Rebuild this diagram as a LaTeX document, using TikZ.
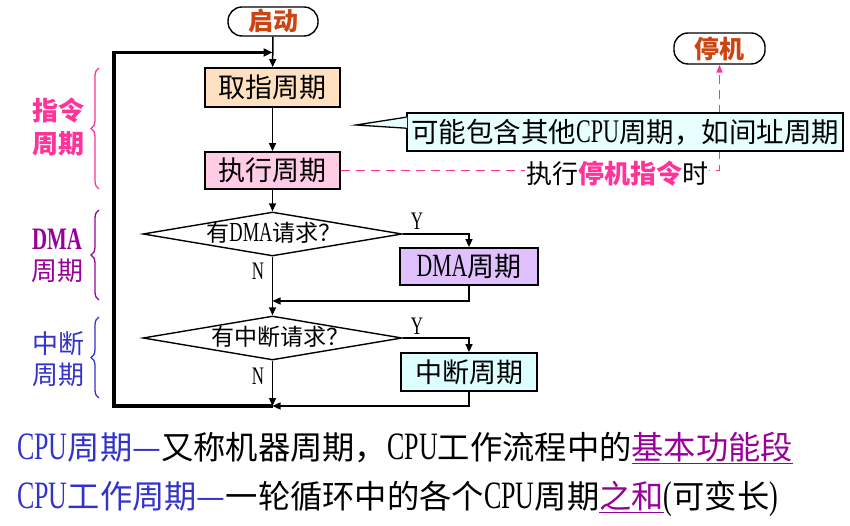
\documentclass[tikz,border=0pt]{standalone}
\usepackage{fontspec}
\setmainfont{Noto Sans CJK SC}
\newfontfamily\lat[FakeStretch=0.67,Scale=1.2]{Liberation Serif}
\usetikzlibrary{arrows.meta,decorations.pathreplacing,shapes.geometric}
\definecolor{startred}{RGB}{204,68,17}
\definecolor{pinkc}{RGB}{255,51,153}
\definecolor{purp}{RGB}{153,0,153}
\definecolor{bluec}{RGB}{51,51,204}
\definecolor{peach}{RGB}{255,224,192}
\definecolor{pinkfill}{RGB}{255,204,230}
\definecolor{lav}{RGB}{224,192,255}
\definecolor{cyanfill}{RGB}{221,255,255}
\definecolor{callfill}{RGB}{232,255,255}
\tikzset{
  conn/.style={line width=1.5pt, -{Triangle[length=8pt,width=7pt]}},
  loopline/.style={line width=3.2pt, -{Triangle[length=9pt,width=8pt]}},
  dashpink/.style={pinkc, line width=1.8pt, dash pattern=on 9pt off 6pt, -{Triangle[length=8pt,width=6pt]}},
  procbox/.style={draw, line width=1.8pt, minimum width=135pt, minimum height=38pt, inner sep=0pt, font=\fontsize{27}{27}\selectfont},
  term/.style={draw, line width=1.4pt, rounded corners=14pt, minimum width=90pt, minimum height=29pt, inner sep=0pt, text=startred, font=\bfseries\fontsize{25}{25}\selectfont},
  dia/.style={diamond, draw, line width=1.4pt, aspect=5.9, minimum width=259pt, minimum height=44pt, inner sep=0pt},
  dtext/.style={inner sep=0pt, font=\fontsize{23}{23}\selectfont},
  yn/.style={inner sep=0pt, font=\lat\fontsize{21}{21}\selectfont},
  sidelab/.style={align=center, inner sep=0pt},
  bracestyle/.style={line width=1.3pt, decorate, decoration={brace, amplitude=8pt}},
  bottomtext/.style={anchor=base west, inner sep=0pt, font=\fontsize{32.3}{32.3}\selectfont}
}
\begin{document}
\begin{tikzpicture}[x=1pt,y=-1pt]
\useasboundingbox (0,0) rectangle (850,526);

% terminals
\node[term] (start) at (273,21.5) {启动};
\node[term, minimum width=91pt, minimum height=31pt] (stop) at (719.5,48.5) {停机};

% process boxes
\node[procbox, fill=peach, minimum height=39pt] (fetch) at (272.5,87.5) {取指周期};
\node[procbox, fill=pinkfill, minimum height=37pt] (exec) at (272.5,170.5) {执行周期};

% decisions
\node[dia] (d1) at (272.5,234) {};
\node[dtext] (d1t) at (274,233) {有{\lat DMA}请求？};
\node[procbox, fill=lav, minimum width=138pt, minimum height=37pt] (dma) at (469,266.5) {{\lat DMA}周期};

\node[dia] (d2) at (272.5,338) {};
\node[dtext] (d2t) at (280,337) {有中断请求？};
\node[procbox, fill=cyanfill, minimum width=136pt, minimum height=38pt] (int) at (469,372) {中断周期};

% Y / N labels
\node[yn] (y1) at (417,221) {Y};
\node[yn] (n1) at (258,271) {N};
\node[yn] (y2) at (417,326) {Y};
\node[yn] (n2) at (258,376) {N};

% junctions
\coordinate (j1) at (272.5,301);
\coordinate (j2) at (272.5,406);
\coordinate (lb) at (114,406);
\coordinate (lt) at (114,52.5);
\coordinate (jt) at (272.5,52.5);
\coordinate (dc) at (719.5,170.5);

% connectors
\draw[conn] (start) -- (fetch);
\draw[conn] (fetch) -- (exec);
\draw[conn] (exec) -- (d1.north);
\draw[conn] (d1.east) -| (dma.north);
\draw[conn] (d1.south) -- (d2.north);
\draw[conn] (dma.south) |- (j1);
\draw[conn] (d2.east) -| (int.north);
\draw[conn] (d2.south) -- (j2);
\draw[conn] (int.south) |- (j2);
\draw[loopline] (j2) -- (lb) -- (lt) -- (jt);

% halt path
\draw[dashpink] (exec.east) -- (dc) -- (stop.south);
\node[fill=white, inner sep=1pt, font=\fontsize{26}{26}\selectfont] (stopnote) at (617,174) {执行{\bfseries\color{pinkc}停机指令}时};

% callout
\node[draw, line width=1.6pt, fill=callfill, minimum width=436pt, minimum height=38pt, inner sep=0pt, font=\fontsize{27.5}{27.5}\selectfont] (call) at (625,132) {可能包含其他{\lat CPU}周期，如间址周期};
\coordinate (tip) at (356,125);
\fill[callfill] ([xshift=1pt,yshift=-5pt]call.north west) -- (tip) -- ([xshift=1pt,yshift=-16pt]call.north west) -- cycle;
\draw[line width=1.3pt] ([yshift=-5pt]call.north west) -- (tip) -- ([yshift=-16pt]call.north west);

% braces and side labels
\draw[pinkc, bracestyle] (99,189) -- (99,68);
\draw[purp, bracestyle] (99,300) -- (99,210);
\draw[bluec, bracestyle] (99,398) -- (99,317);
\node[sidelab, text=pinkc, font=\bfseries\fontsize{26}{33}\selectfont] (lab1) at (58,127) {指令\\周期};
\node[sidelab, text=purp, font=\fontsize{26}{31}\selectfont] (lab2) at (57,256) {{\lat\bfseries DMA}\\周期};
\node[sidelab, text=bluec, font=\fontsize{26}{31}\selectfont] (lab3) at (58,359) {中断\\周期};

% bottom text
\node[bottomtext] (t1) at (17,459) {{\color{bluec}{\lat CPU}周期—}又称机器周期，{\lat CPU}工作流程中的{\color{purp}\underline{基本功能段}}};
\node[bottomtext] (t2) at (17,508) {{\color{bluec}{\lat CPU}工作周期—}一轮循环中的各个{\lat CPU}周期{\color{purp}\underline{之和}}{\lat (}可变长{\lat )}};
\end{tikzpicture}
\end{document}
